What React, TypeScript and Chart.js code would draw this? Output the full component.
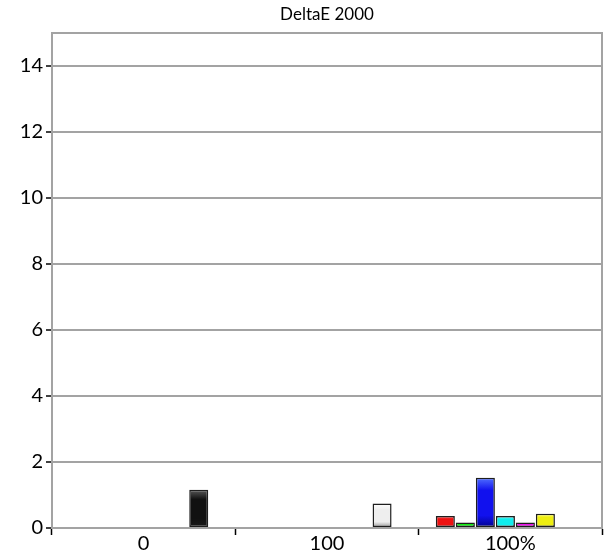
import React, { useEffect, useRef } from "react";
import { Chart, registerables } from "chart.js";

Chart.register(...registerables);

const categories = ["0", "100", "100%"];
const yTicks = [0, 2, 4, 6, 8, 10, 12, 14];
const yMax = 15;

const greyValues = [1.16, 0.74, null];
const redValues = [null, null, 0.36];
const greenValues = [null, null, 0.17];
const blueValues = [null, null, 1.52];
const cyanValues = [null, null, 0.36];
const magentaValues = [null, null, 0.17];
const yellowValues = [null, null, 0.43];

// gradient stops (top, middle, bottom) per bar
const greyStops = [
  ["#5a5a5a", "#111111", "#1a1a1a"],
  ["#ffffff", "#eeeeee", "#8a8a8a"],
];
const redStops = ["#ff5050", "#ee1111", "#990000"];
const greenStops = ["#60ff60", "#11ee11", "#009900"];
const blueStops = ["#5070ff", "#1111ee", "#000088"];
const cyanStops = ["#80ffff", "#11eeee", "#009999"];
const magentaStops = ["#ff70ff", "#ee11ee", "#990099"];
const yellowStops = ["#ffff80", "#eeee11", "#999900"];

const FONT = "Lato, 'Open Sans', sans-serif";

function toPoints(values: (number | null)[]) {
  return values
    .map((v, i) => ({ x: i, y: v }))
    .filter((p) => p.y !== null) as { x: number; y: number }[];
}

function gradientFor(getStops: (i: number) => string[]) {
  return (ctx: any) => {
    const chart = ctx.chart;
    const stops = getStops(ctx.dataIndex);
    const yScale = chart.scales && chart.scales.y;
    if (!ctx.parsed || !yScale) return stops[1];
    const top = yScale.getPixelForValue(ctx.parsed.y);
    const base = yScale.getPixelForValue(0);
    if (!isFinite(top) || !isFinite(base) || top === base) return stops[1];
    const g = chart.ctx.createLinearGradient(0, top, 0, base);
    g.addColorStop(0, stops[0]);
    g.addColorStop(0.25, stops[1]);
    g.addColorStop(0.75, stops[1]);
    g.addColorStop(1, stops[2]);
    return g;
  };
}

const boxPlugin = {
  id: "plotBox",
  beforeDatasetsDraw(chart: any) {
    const { ctx, chartArea } = chart;
    ctx.save();
    ctx.strokeStyle = "#a3a3a3";
    ctx.lineWidth = 2;
    ctx.strokeRect(
      chartArea.left,
      chartArea.top,
      chartArea.right - chartArea.left,
      chartArea.bottom - chartArea.top
    );
    ctx.restore();
  },
};

export default function App() {
  const canvasRef = useRef<HTMLCanvasElement | null>(null);

  useEffect(() => {
    if (!canvasRef.current) return;
    const common = {
      xAxisID: "xb",
      borderColor: "#1e1e1e",
      borderWidth: 1.5,
      borderSkipped: false,
      categoryPercentage: 0.764,
      barPercentage: 0.95,
    };
    const greyData = greyValues
      .map((v, i) => ({ x: i, y: v, s: i }))
      .filter((p) => p.y !== null);
    const chart = new Chart(canvasRef.current, {
      type: "bar",
      data: {
        labels: categories,
        datasets: [
          { ...common, label: "Red", data: toPoints(redValues), backgroundColor: gradientFor(() => redStops) },
          { ...common, label: "Green", data: toPoints(greenValues), backgroundColor: gradientFor(() => greenStops) },
          { ...common, label: "Blue", data: toPoints(blueValues), backgroundColor: gradientFor(() => blueStops) },
          { ...common, label: "Cyan", data: toPoints(cyanValues), backgroundColor: gradientFor(() => cyanStops) },
          { ...common, label: "Magenta", data: toPoints(magentaValues), backgroundColor: gradientFor(() => magentaStops) },
          { ...common, label: "Yellow", data: toPoints(yellowValues), backgroundColor: gradientFor(() => yellowStops) },
          {
            ...common,
            label: "Grey",
            data: toPoints(greyValues),
            backgroundColor: gradientFor((i) => greyStops[greyData[i] ? greyData[i].s : 0] || greyStops[0]),
          },
        ] as any,
      },
      options: {
        animation: false,
        responsive: false,
        devicePixelRatio: 1,
        layout: { padding: { left: 0, right: 6, top: 0, bottom: 0 } },
        plugins: {
          legend: { display: false },
          tooltip: { enabled: false },
          title: {
            display: true,
            text: "DeltaE 2000",
            fullSize: false,
            color: "#000",
            font: { family: FONT, size: 17, weight: "normal" },
            padding: { top: 4, bottom: 8.6 },
          },
        },
        scales: {
          x: {
            type: "category",
            offset: true,
            grid: {
              offset: true,
              drawOnChartArea: false,
              drawTicks: true,
              tickLength: 7,
              tickColor: "#000",
              tickWidth: 1.5,
            },
            border: { display: true, color: "#a3a3a3", width: 2 },
            ticks: {
              color: "#000",
              font: { family: FONT, size: 20 },
              padding: -3,
              maxRotation: 0,
              autoSkip: false,
            },
            afterFit: (scale: any) => {
              scale.height = 27;
            },
          },
          xb: {
            type: "linear",
            display: false,
            offset: false,
            min: -0.5 + 0.027,
            max: 2.5 + 0.027,
            afterBuildTicks: (scale: any) => {
              scale.ticks = categories.map((_, i) => ({ value: i }));
            },
          },
          y: {
            type: "linear",
            min: 0,
            max: yMax,
            grid: {
              color: "#a3a3a3",
              lineWidth: 2,
              drawTicks: true,
              tickLength: 6,
              tickColor: "#000",
              tickWidth: 1.5,
            },
            border: { display: true, color: "#a3a3a3", width: 2 },
            afterBuildTicks: (scale: any) => {
              scale.ticks = yTicks.map((v) => ({ value: v }));
            },
            ticks: {
              color: "#000",
              font: { family: FONT, size: 20 },
              padding: 3,
            },
            afterFit: (scale: any) => {
              scale.width = 52;
            },
          },
        },
      } as any,
      plugins: [boxPlugin],
    });
    return () => chart.destroy();
  }, []);

  return (
    <div style={{ position: "fixed", left: 0, top: 0, width: 608, height: 555, background: "#fff" }}>
      <canvas ref={canvasRef} width={608} height={555} style={{ display: "block" }} />
    </div>
  );
}
